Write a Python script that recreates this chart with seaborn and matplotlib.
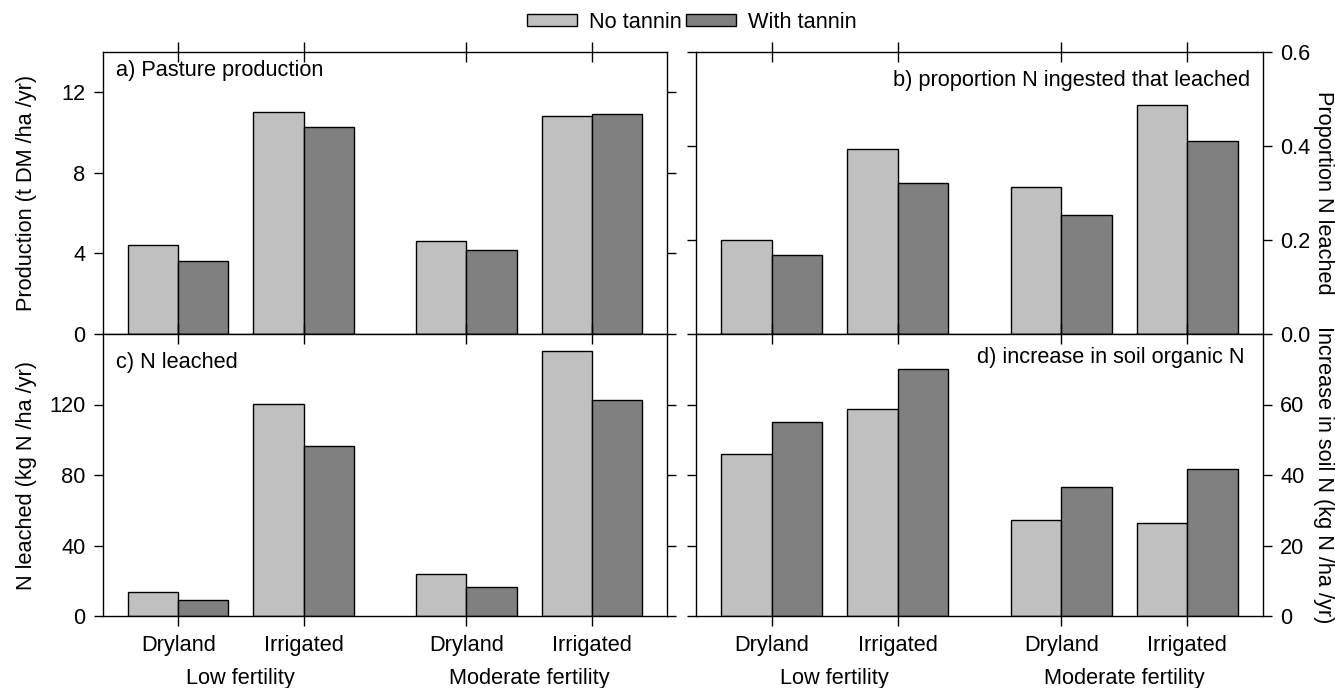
import pandas as pd
import matplotlib.pyplot as plt
import seaborn as sns
from matplotlib.patches import Patch
from matplotlib.ticker import FormatStrFormatter

# data
conditions = ['Dryland', 'Irrigated', 'Dryland', 'Irrigated']
fertility = ['Low fertility', 'Moderate fertility']
treatments = ['No tannin', 'With tannin']

production_no = [4.40, 11.0, 4.62, 10.84]
production_with = [3.62, 10.30, 4.19, 10.90]
prop_leached_no = [0.199, 0.394, 0.313, 0.488]
prop_leached_with = [0.168, 0.322, 0.254, 0.410]
n_leached_no = [13.6, 120.3, 23.7, 150.3]
n_leached_with = [9.0, 96.4, 16.4, 122.8]
soil_n_no = [46.0, 58.6, 27.2, 26.5]
soil_n_with = [55.0, 70.0, 36.5, 41.8]

# layout: bar-group positions (gap between fertility groups)
cat_pos = [0, 1, 2.3, 3.3]
group_centres = [0.5, 2.8]
colors = ['#c0c0c0', '#808080']
fs = 15.7

sns.set_style('ticks', {'axes.edgecolor': 'black', 'xtick.color': 'black',
                        'ytick.color': 'black', 'text.color': 'black',
                        'axes.labelcolor': 'black'})
plt.rcParams['font.family'] = ['Liberation Sans', 'DejaVu Sans']
plt.rcParams['font.size'] = fs
plt.rcParams['axes.linewidth'] = 1.0


def make_df(no, wth):
    rows = []
    for p, a, b in zip(cat_pos, no, wth):
        rows.append({'pos': p, 'treatment': treatments[0], 'value': a})
        rows.append({'pos': p, 'treatment': treatments[1], 'value': b})
    return pd.DataFrame(rows)


fig = plt.figure(figsize=(13.35, 6.88), dpi=100)
W, H = 1335, 688
panels = [
    # rect in pixels (left, top, right, bottom), data, ylim, yticks, title, ylabel, side
    ((103, 52, 667, 334), production_no, production_with, (0, 14), [0, 4, 8, 12],
     'a) Pasture production', 'Production (t DM /ha /yr)', 'left', True),
    ((696, 52, 1263, 334), prop_leached_no, prop_leached_with, (0, 0.6), [0.0, 0.2, 0.4, 0.6],
     'b) proportion N ingested that leached', 'Proportion N leached', 'right', True),
    ((103, 334, 667, 616), n_leached_no, n_leached_with, (0, 160), [0, 40, 80, 120],
     'c) N leached', 'N leached (kg N /ha /yr)', 'left', False),
    ((696, 334, 1263, 616), soil_n_no, soil_n_with, (0, 80), [0, 20, 40, 60],
     'd) increase in soil organic N', 'Increase in soil N (kg N /ha /yr)', 'right', False),
]
title_pos = [(0.023, 0.934, 'left'), (0.978, 0.90, 'right'),
             (0.023, 0.898, 'left'), (0.968, 0.918, 'right')]

for i, (rect, no, wth, ylim, yticks, title, ylabel, side, top) in enumerate(panels):
    l, t, r, b = rect
    ax = fig.add_axes([l / W, 1 - b / H, (r - l) / W, (b - t) / H])
    df = make_df(no, wth)
    sns.barplot(data=df, x='pos', y='value', hue='treatment', hue_order=treatments,
                palette=colors, native_scale=True, width=0.8, errorbar=None,
                edgecolor='black', linewidth=1.0, legend=False, ax=ax)
    ax.set_xlim(-0.6, 3.9)
    ax.set_ylim(*ylim)
    ax.set_yticks(yticks)
    if side == 'right':
        ax.yaxis.set_major_formatter(FormatStrFormatter('%.1f') if i == 1 else FormatStrFormatter('%d'))
    else:
        ax.yaxis.set_major_formatter(FormatStrFormatter('%d'))
    ax.set_xticks(cat_pos)
    ax.set_xticklabels(conditions)
    ax.set_xlabel('')
    ax.tick_params(axis='x', direction='inout', length=13.7, width=1.0, top=True,
                   bottom=True, labelbottom=not top, pad=7, labelsize=fs)
    ax.tick_params(axis='y', direction='out', length=6.5, width=1.0, left=True,
                   right=True, labelleft=(side == 'left'), labelright=(side == 'right'),
                   pad=6, labelsize=fs)
    if side == 'right':
        ax.yaxis.set_label_position('right')
        ax.set_ylabel(ylabel, rotation=-90, va='center', fontsize=fs)
        ax.yaxis.set_label_coords(1.106, 0.5)
    else:
        ax.set_ylabel(ylabel, va='center', fontsize=fs)
        ax.yaxis.set_label_coords(-0.135, 0.5)
    tx, ty, ha = title_pos[i]
    ax.text(tx, ty, title, transform=ax.transAxes, ha=ha, va='center', fontsize=fs)
    if not top:
        for gx, gname in zip(group_centres, fertility):
            ax.text(gx, -0.223, gname, transform=ax.get_xaxis_transform(),
                    ha='center', va='center', fontsize=fs)

handles = [Patch(facecolor=c, edgecolor='black', linewidth=1.0) for c in colors]
fig.legend(handles, treatments, loc='center', bbox_to_anchor=(0.518, 0.968), ncol=2,
           frameon=False, handlelength=2.3, handleheight=0.46, handletextpad=0.55,
           columnspacing=0.2, fontsize=fs, borderaxespad=0)

fig.savefig('out.png', dpi=100)
